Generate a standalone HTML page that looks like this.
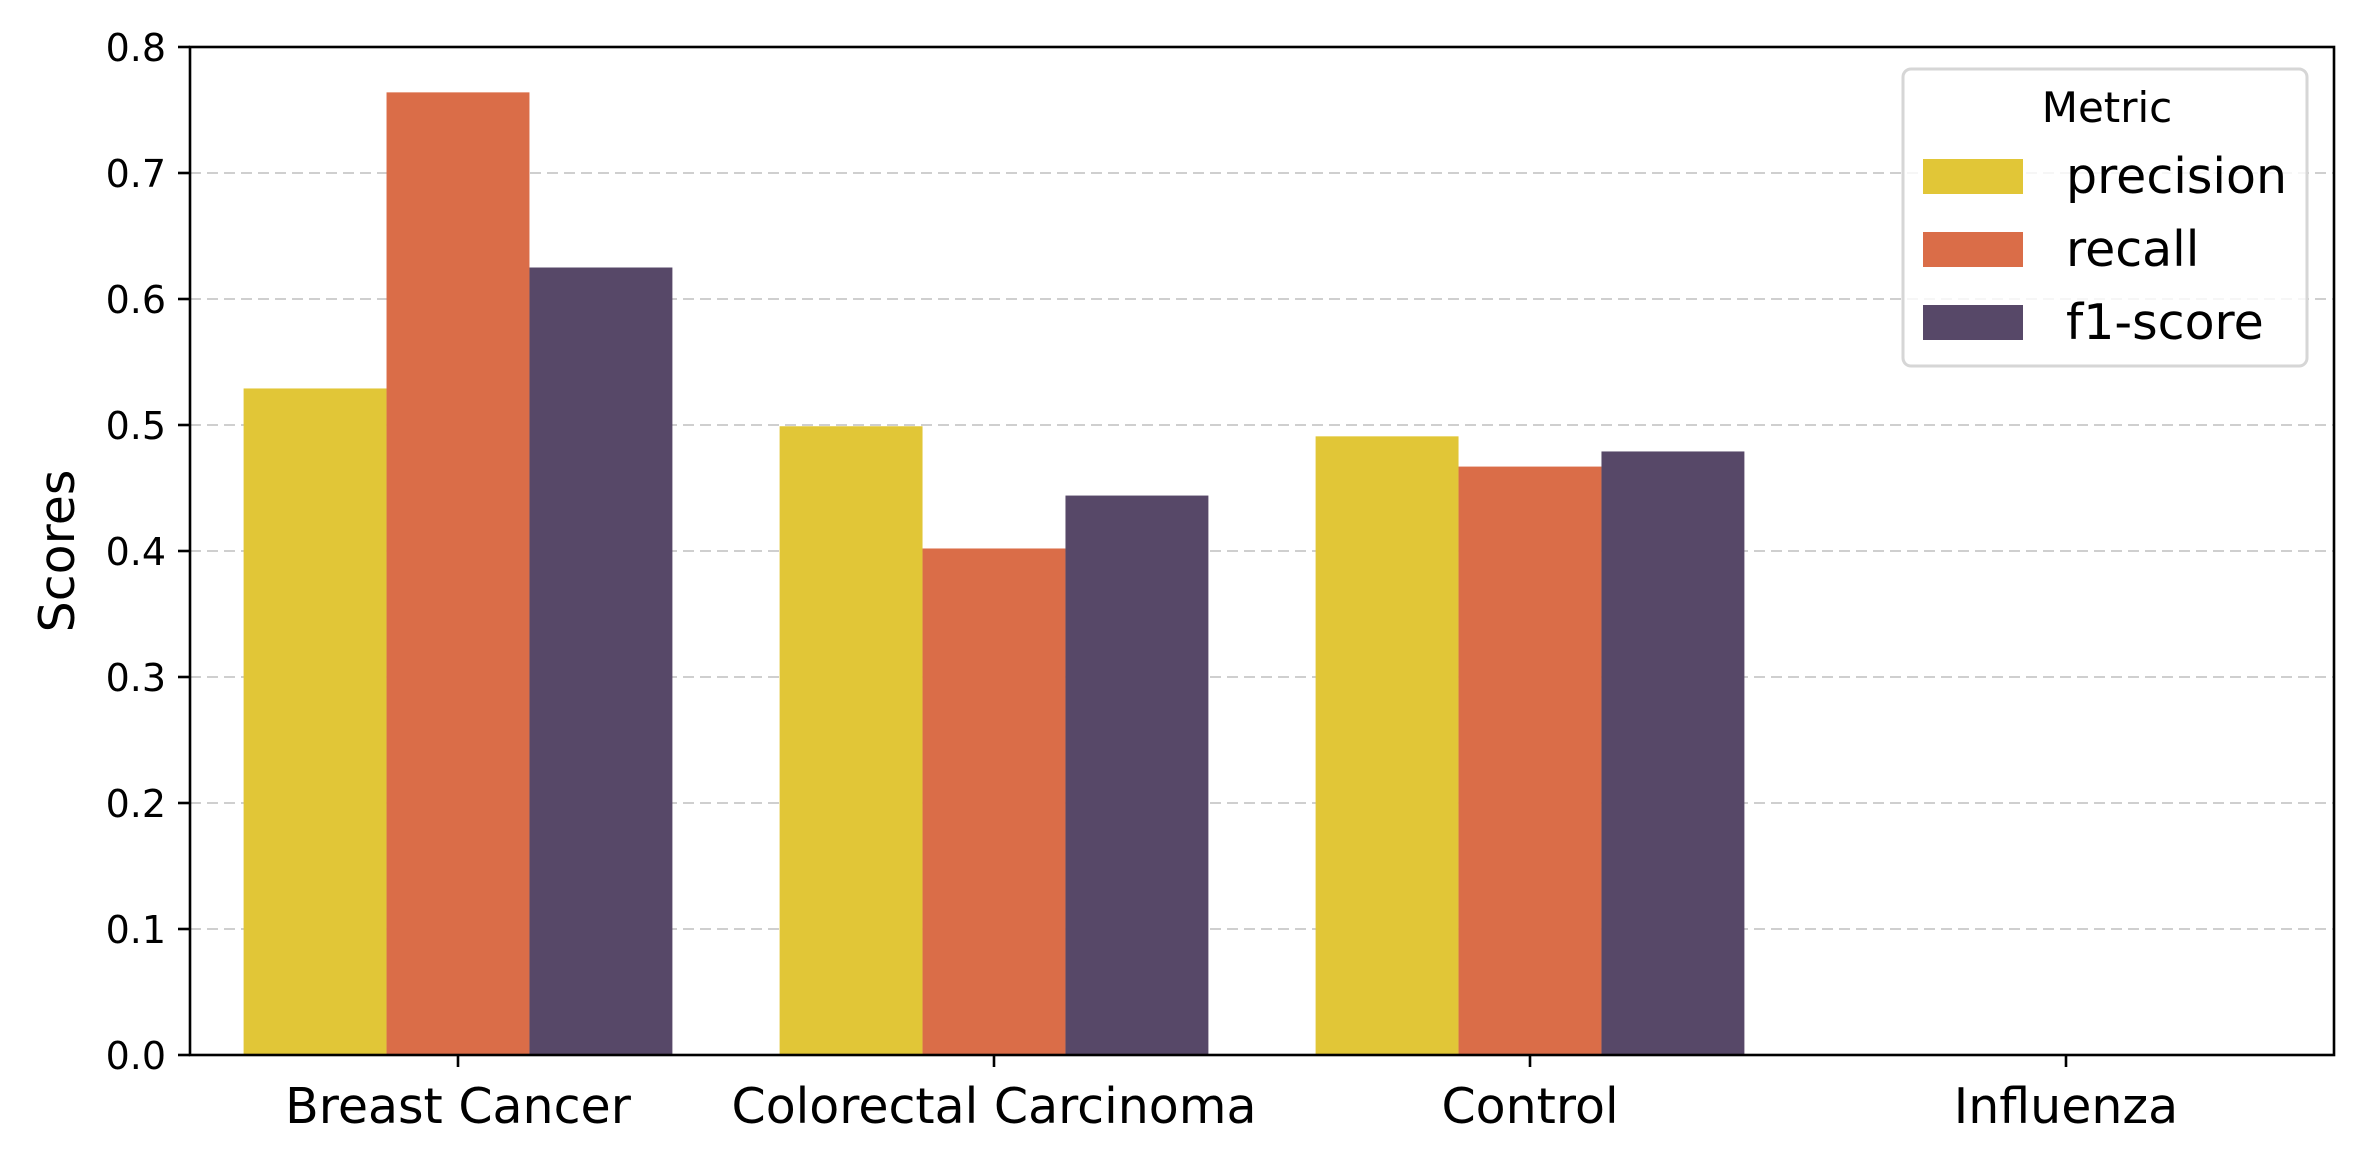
<!DOCTYPE html>
<html><head><meta charset="utf-8"><style>
html,body{margin:0;padding:0;background:#fff;}
svg{display:block;font-family:"DejaVu Sans","Liberation Sans",sans-serif;}
</style></head><body>
<svg id="chart" width="2364" height="1163" viewBox="0 0 2364 1163" xmlns="http://www.w3.org/2000/svg">
<rect width="2364" height="1163" fill="#fff"/>
<g id="grid"></g><g id="bars"></g><g id="axes"></g><g id="legend"></g>
</svg>
<script>
const categories = ["Breast Cancer","Colorectal Carcinoma","Control","Influenza"];
const precision = [0.529,0.499,0.491,0];
const recall = [0.764,0.402,0.467,0];
const f1score = [0.625,0.444,0.479,0];
const seriesNames = ["precision","recall","f1-score"];
const seriesColors = ["#e1c637","#da6d48","#574868"];
const yTicks = [0,0.1,0.2,0.3,0.4,0.5,0.6,0.7,0.8];
const yTickLabels = ["0.0","0.1","0.2","0.3","0.4","0.5","0.6","0.7","0.8"];

const NS="http://www.w3.org/2000/svg";
const L=190,R=2334,T=47,B=1055,yMax=0.8;
const band=(R-L)/categories.length;
const x=i=>L+band*(i+0.5);
const y=v=>B-(v/yMax)*(B-T);
function mk(tag,attrs,parent){const e=document.createElementNS(NS,tag);for(const k in attrs)e.setAttribute(k,attrs[k]);parent.appendChild(e);return e;}
const grid=document.getElementById('grid'),bars=document.getElementById('bars'),axes=document.getElementById('axes'),leg=document.getElementById('legend');

yTicks.forEach((t,i)=>{
  const g=mk('line',{x1:L,x2:R,y1:y(t),y2:y(t),stroke:'#cfcfcf','stroke-width':2,'stroke-dasharray':'11,6'},grid);
  
  
  const tk=mk('line',{x1:L-12,x2:L,y1:y(t),y2:y(t),stroke:'#000','stroke-width':2.6},axes);
  
  
  const tl=mk('text',{x:L-24,y:y(t)+14,'text-anchor':'end','font-size':38,fill:'#000'},axes);
  tl.textContent=yTickLabels[i];
  
  
});

const series=[precision,recall,f1score];
const bw=band*0.8/3;
categories.forEach((c,i)=>{
  series.forEach((s,j)=>{
    const x0=x(i)-band*0.4+j*bw;
    const r=mk('rect',{x:x0,y:y(s[i]),width:bw,height:B-y(s[i]),fill:seriesColors[j]},bars);
    
    
  });
  const tk=mk('line',{x1:x(i),x2:x(i),y1:B,y2:B+12,stroke:'#000','stroke-width':2.6},axes);
  
  
  const tl=mk('text',{x:x(i),y:B+68,'text-anchor':'middle','font-size':49,fill:'#000'},axes);
  tl.textContent=c;
  
  
});

const frame=mk('rect',{x:L,y:T,width:R-L,height:B-T,fill:'none',stroke:'#000','stroke-width':2.6},axes);


const yl=mk('text',{x:0,y:0,transform:'translate(74,'+((T+B)/2)+') rotate(-90)','text-anchor':'middle','font-size':49,fill:'#000'},axes);
yl.textContent='Scores';



const box=mk('rect',{x:1903,y:69,width:404,height:297,rx:8,fill:'#fff','fill-opacity':0.8,stroke:'#d6d6d6','stroke-width':3},leg);


const lt=mk('text',{x:2107,y:122,'text-anchor':'middle','font-size':42,fill:'#000'},leg);
lt.textContent='Metric';


seriesNames.forEach((n,j)=>{
  const yy=159+j*73;
  const p=mk('rect',{x:1923,y:yy,width:100,height:35,fill:seriesColors[j]},leg);
  
  
  const t=mk('text',{x:2066,y:yy+34,'font-size':49,fill:'#000'},leg);
  t.textContent=n;
  
  
});
</script>
</body></html>
